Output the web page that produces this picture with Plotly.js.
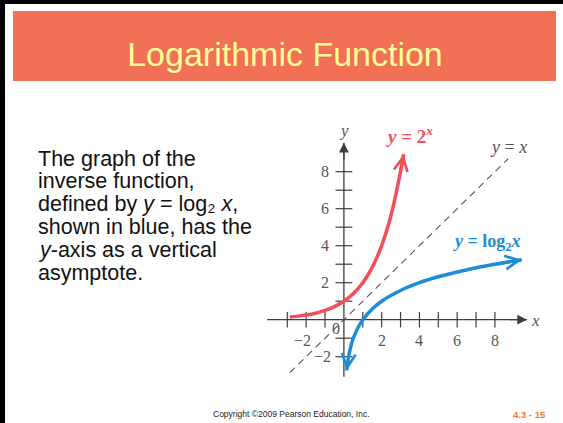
<!DOCTYPE html>
<html><head><meta charset="utf-8">
<script src="https://cdn.plot.ly/plotly-3.0.1.min.js"></script>
<style>html,body{margin:0;padding:0;background:#fff;overflow:hidden}#chart{width:563px;height:423px}</style>
</head><body><div id="chart"></div>
<script>
// ---- data ----
const expX = [-2.86, -2.5, -2, -1.5, -1, -0.5, 0, 0.5, 1, 1.5, 2, 2.5, 3, 3.16];
const expY = [0.14, 0.18, 0.25, 0.35, 0.5, 0.71, 1, 1.41, 2, 2.83, 4, 5.66, 8, 8.94];
const logX = [0.15, 0.2, 0.25, 0.3, 0.4, 0.5, 0.75, 1, 1.5, 2, 3, 4, 5, 6, 7, 8, 9.42];
const logY = [-2.74, -2.32, -2, -1.74, -1.32, -1, -0.42, 0, 0.58, 1, 1.58, 2, 2.32, 2.58, 2.81, 3, 3.24];
const idX = [-2.86, 8.7];
const idY = [-2.86, 8.7];
const xAxisSpan = [-4.07, 9.7];
const yAxisSpan = [-3.08, 9.57];
const xTickVals = [-3, -2, -1, 1, 2, 3, 4, 5, 6, 7, 8];
const yTickVals = [-2, -1, 1, 2, 3, 4, 5, 6, 7, 8];
const xLabelVals = [-2, 2, 4, 6, 8];
const yLabelVals = [-2, 2, 4, 6, 8];
const titleText = 'Logarithmic Function';
const bodyLines = [
  'The graph of the',
  'inverse function,',
  'defined by <i>y</i> = log\u2082 <i>x</i>,',
  'shown in blue, has the',
  '<i>y</i>-axis as a vertical',
  'asymptote.'
];
const footerText = 'Copyright ©2009 Pearson Education, Inc.';
const pageText = '4.3 - 15';

// ---- layout geometry (pixels) ----
const W = 563, H = 423;
const ox = 343.9, oy = 319.7, sx = 18.88, sy = 18.5;
const PX = p => p / W, PY = p => 1 - p / H;
const serif = 'Liberation Serif, Times New Roman, serif';
const sans = 'Liberation Sans, Arial, sans-serif';
const axisCol = '#3d3d3d', tickLabCol = '#555', redCol = '#f04f5b', blueCol = '#1b8dd6';

const traces = [
  {x: xAxisSpan, y: [0, 0], mode: 'lines', line: {color: axisCol, width: 1.3}, hoverinfo: 'skip'},
  {x: [0, 0], y: yAxisSpan, mode: 'lines', line: {color: axisCol, width: 1.3}, hoverinfo: 'skip'},
  {x: xTickVals, y: xTickVals.map(() => 0), mode: 'markers',
   marker: {symbol: 'line-ns', size: 11, line: {color: axisCol, width: 1.2}}, hoverinfo: 'skip'},
  {x: yTickVals.map(() => 0), y: yTickVals, mode: 'markers',
   marker: {symbol: 'line-ew', size: 12, line: {color: axisCol, width: 1.2}}, hoverinfo: 'skip'},
  {x: idX, y: idY, mode: 'lines', line: {color: '#555', width: 1.1, dash: '7px,5px'}, hoverinfo: 'skip'},
  {x: expX, y: expY, mode: 'lines', line: {color: redCol, width: 3.5, shape: 'spline'}, hoverinfo: 'skip'},
  {x: logX, y: logY, mode: 'lines', line: {color: blueCol, width: 3.5, shape: 'spline'}, hoverinfo: 'skip'}
];

const ann = [];
function arrowAt(tx, ty, fx, fy, col, w, head, size) {
  ann.push({x: tx, y: ty, ax: fx, ay: fy, xref: 'x', yref: 'y', axref: 'x', ayref: 'y',
    text: '', showarrow: true, arrowhead: head, arrowsize: size, arrowwidth: w, arrowcolor: col});
}
// axis arrowheads
arrowAt(xAxisSpan[1], 0, xAxisSpan[1] - 1, 0, axisCol, 1.3, 2, 1.5);
arrowAt(0, yAxisSpan[1], 0, yAxisSpan[1] - 1, axisCol, 1.3, 2, 1.5);
// curve arrowheads
const nE = expX.length - 1, nL = logX.length - 1;
arrowAt(expX[0], expY[0], expX[1], expY[1], redCol, 3, 5, 0.9);
arrowAt(expX[nE], expY[nE], expX[nE - 1], expY[nE - 1], redCol, 3, 5, 0.9);
arrowAt(logX[0], logY[0], logX[1], logY[1], blueCol, 3, 5, 0.9);
arrowAt(logX[nL], logY[nL], logX[nL - 1], logY[nL - 1], blueCol, 3, 5, 0.9);

// tick labels
const tickFont = {family: serif, size: 16, color: tickLabCol};
const minus = v => (v < 0 ? '\u2212' + Math.abs(v) : String(v));
xLabelVals.forEach(v => ann.push({x: v, y: 0, xref: 'x', yref: 'y', text: minus(v), showarrow: false,
  xanchor: 'center', yanchor: 'middle', xshift: v < 0 ? -4 : 0, yshift: -21, font: tickFont}));
yLabelVals.forEach(v => ann.push({x: 0, y: v, xref: 'x', yref: 'y', text: minus(v), showarrow: false,
  xanchor: 'right', yanchor: 'middle', xshift: v < 0 ? -11 : -13, font: tickFont}));
ann.push({x: 0, y: 0, xref: 'x', yref: 'y', text: '0', showarrow: false, xanchor: 'center', yanchor: 'middle',
  xshift: -8, yshift: -9, font: tickFont});

function txt(t, px, py, opts) {
  ann.push(Object.assign({x: PX(px), y: PY(py), xref: 'paper', yref: 'paper', text: t, showarrow: false,
    xanchor: 'center', yanchor: 'middle', borderpad: 0}, opts));
}
// graph labels
txt('<i>y</i>', 343.5, 130, {font: {family: serif, size: 17, color: tickLabCol}});
txt('<i>x</i>', 535, 320, {font: {family: serif, size: 17, color: tickLabCol}});
txt('<b><i>y</i> = 2<sup><i>x</i></sup></b>', 409, 135, {font: {family: serif, size: 19, color: redCol}});
txt('<i>y</i> = <i>x</i>', 508, 147, {font: {family: serif, size: 18, color: tickLabCol}});
txt('<b><i>y</i> = log<sub>2</sub><i>x</i></b>', 486.5, 242, {font: {family: serif, size: 18, color: blueCol}});

// paragraph
const baseline0 = 165, pitch = 22.9, fs = 21.5;
bodyLines.forEach((t, i) => txt(t, 36.5, baseline0 + i * pitch - 0.905 * fs,
  {xanchor: 'left', yanchor: 'top', font: {family: sans, size: fs, color: '#111'}}));

// footer
txt(footerText, 291, 414, {font: {family: sans, size: 8.5, color: '#222'}});
txt('<b>' + pageText + '</b>', 529, 414, {font: {family: sans, size: 9.5, color: '#f07a2e'}});

const shapes = [
  {type: 'rect', xref: 'paper', yref: 'paper', x0: PX(13), x1: PX(556), y0: PY(11), y1: PY(81),
   fillcolor: '#f27056', line: {width: 0}, layer: 'below'},
  {type: 'rect', xref: 'paper', yref: 'paper', x0: 0, x1: 1, y0: PY(4), y1: 1,
   fillcolor: '#000', line: {width: 0}},
  {type: 'rect', xref: 'paper', yref: 'paper', x0: 0, x1: PX(5), y0: 0, y1: 1,
   fillcolor: '#000', line: {width: 0}}
];

const layout = {
  width: W, height: H, margin: {l: 0, r: 0, t: 0, b: 0},
  paper_bgcolor: '#fff', plot_bgcolor: 'rgba(0,0,0,0)', showlegend: false,
  title: {text: titleText, x: PX(285), xref: 'paper', y: PY(54), yref: 'paper',
    xanchor: 'center', yanchor: 'middle', font: {family: sans, size: 34, color: '#ffff99'}},
  xaxis: {range: [-ox / sx, (W - ox) / sx], visible: false, fixedrange: true},
  yaxis: {range: [-(H - oy) / sy, oy / sy], visible: false, fixedrange: true},
  annotations: ann, shapes: shapes
};
Plotly.newPlot('chart', traces, layout, {staticPlot: true, displayModeBar: false});
</script></body></html>
